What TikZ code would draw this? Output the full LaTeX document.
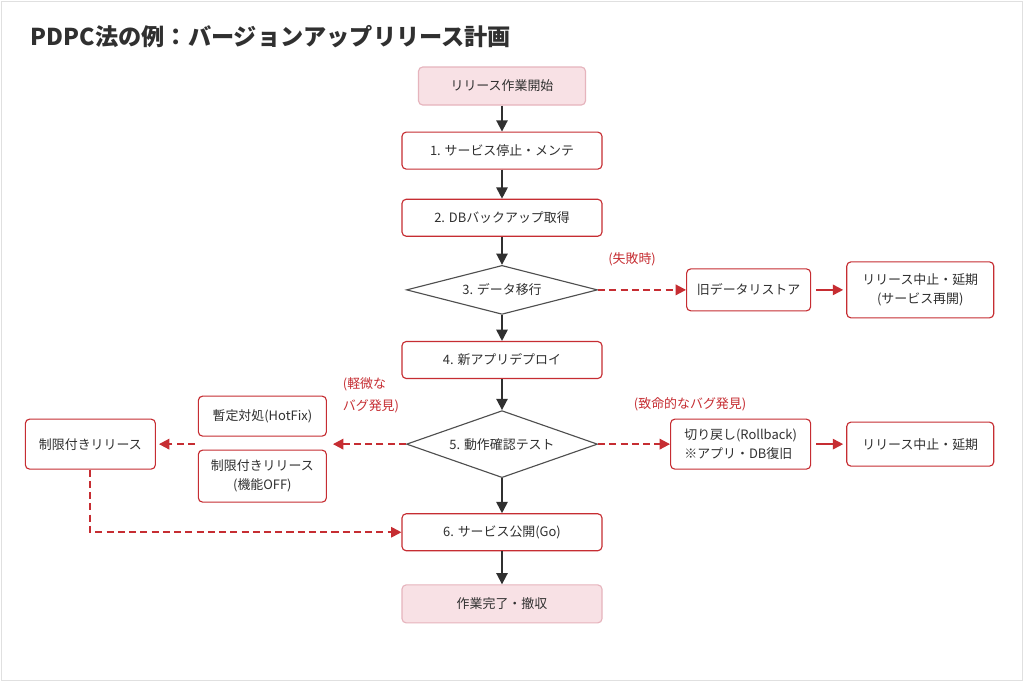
\documentclass[tikz,border=0pt]{standalone}
\usepackage{fontspec}
\setmainfont{Noto Sans CJK JP}
\usepackage{xcolor}
\definecolor{accent}{HTML}{C62D32}
\definecolor{pinkbg}{HTML}{F8E1E5}
\definecolor{pinkln}{HTML}{E6B4BD}
\definecolor{ink}{HTML}{303030}
\usetikzlibrary{shapes.geometric, arrows.meta, positioning}

\begin{document}
\begin{tikzpicture}[
    font=\fontsize{9.2}{13.5}\selectfont, text=ink,
    tm/.style={rectangle, rounded corners=3pt, draw=pinkln, fill=pinkbg,
               line width=0.8pt, minimum height=9.5mm, align=center},
    sp/.style={rectangle, rounded corners=3pt, draw=accent, fill=white,
               line width=0.8pt, minimum width=50mm, minimum height=9.25mm,
               align=center},
    sub/.style={sp, minimum width=0pt, minimum height=0pt},
    dc/.style={diamond, draw=ink!85, line width=0.8pt, inner sep=0pt,
               minimum width=47.75mm},
    lb/.style={text=accent, font=\fontsize{9.2}{15.5}\selectfont},
    a/.style={-{Triangle[length=2.8mm, width=2.8mm]}, draw=ink, line width=1.3pt},
    ra/.style={-{Triangle[length=2.6mm, width=2.6mm]}, draw=accent, line width=1.3pt},
    da/.style={ra, line width=1.4pt, dash pattern=on 5pt off 3pt}]
  \useasboundingbox (0,0) rectangle (256mm,-170.5mm);
  \fill[white] (0,0) rectangle (256mm,-170.5mm);
  \draw[black!12] (0.2mm,-0.2mm) rectangle (255.5mm,-170.1mm);

  \node[anchor=west, font=\fontsize{16.5}{20}\selectfont\bfseries] (ttl)
    at (6.5mm,-9.25mm) {PDPC法の例：バージョンアップリリース計画};

  % main flow
  \node[tm, minimum width=41.75mm] (st) at (125.5mm,-21.5mm) {リリース作業開始};
  \node[sp, below=6.5mm of st] (s1) {1. サービス停止・メンテ};
  \node[sp, below=7.25mm of s1] (s2) {2. DBバックアップ取得};
  \node[dc, aspect=3.9, minimum height=12.25mm, below=7mm of s2] (d3) {3. データ移行};
  \node[sp, below=6.5mm of d3] (s4) {4. 新アプリデプロイ};
  \node[dc, aspect=2.8, minimum height=16.75mm, below=7.75mm of s4] (d5) {5. 動作確認テスト};
  \node[sp, below=8.75mm of d5] (s6) {6. サービス公開(Go)};
  \node[tm, minimum width=50mm, below=8.25mm of s6] (fin) {作業完了・撤収};

  % right branches
  \node[sub, minimum width=31mm, minimum height=10.5mm, right=22mm of d3] (rs) {旧データリストア};
  \node[sub, minimum width=36.75mm, minimum height=14mm, right=8.75mm of rs] (ab1) {リリース中止・延期\\(サービス再開)};
  \node[sub, minimum width=35mm, minimum height=12.5mm, align=left, right=18mm of d5] (rb) {切り戻し(Rollback)\\※アプリ・DB復旧};
  \node[sub, minimum width=36.75mm, minimum height=11mm, right=8.75mm of rb] (ab2) {リリース中止・延期};

  % left branches
  \node[sub, minimum width=32mm, minimum height=10mm, left=19.75mm of d5, yshift=7mm] (fix) {暫定対処(HotFix)};
  \node[sub, minimum width=32mm, minimum height=13mm, left=19.75mm of d5, yshift=-8mm] (off) {制限付きリリース\\(機能OFF)};
  \node[sub, minimum width=32.5mm, minimum height=12.5mm, left=62.5mm of d5] (lim) {制限付きリリース};

  % labels
  \node[lb] (l3) at ([shift={(8.5mm,7.75mm)}]d3.east) {(失敗時)};
  \node[lb] (l5r) at ([shift={(23mm,10mm)}]d5.east) {(致命的なバグ発見)};
  \node[lb, align=left] (l5l) at ([shift={(-8.75mm,12.25mm)}]d5.west) {(軽微な\\バグ発見)};

  \coordinate (fx) at ([xshift=1.5mm]d5.west -| fix.east);
  \coordinate (fw) at ([xshift=-0.75mm]d5.west -| fix.west);

  \draw[a] (st) -- (s1);
  \draw[a] (s1) -- (s2);
  \draw[a] (s2) -- (d3);
  \draw[a] (d3) -- (s4);
  \draw[a] (s4) -- (d5);
  \draw[a] (d5) -- (s6);
  \draw[a] (s6) -- (fin);

  \draw[da] (d3) -- (rs);
  \draw[ra, shorten <=1.25mm, shorten >=0.75mm] (rs) -- (ab1);
  \draw[da] (d5) -- (rb);
  \draw[ra, shorten <=1.25mm, shorten >=0.75mm] (rb) -- (ab2);
  \draw[da] (d5) -- (fx);
  \draw[da, shorten >=0.75mm] (fw) -- (lim);
  \draw[da] (lim) |- (s6);
\end{tikzpicture}
\end{document}
